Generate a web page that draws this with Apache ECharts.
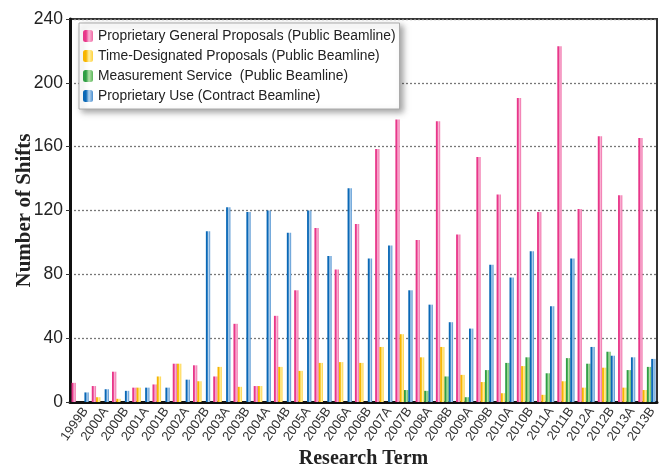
<!DOCTYPE html>
<html>
<head>
<meta charset="utf-8">
<script src="https://cdn.jsdelivr.net/npm/echarts@6/dist/echarts.min.js"></script>
<style>
html,body{margin:0;padding:0;background:#fff;}
#chart{width:667px;height:473px;}
</style>
</head>
<body>
<div id="chart"></div>
<script>
const categories = ['1999B','2000A','2000B','2001A','2001B','2002A','2002B','2003A','2003B','2004A','2004B','2005A','2005B','2006A','2006B','2007A','2007B','2008A','2008B','2009A','2009B','2010A','2010B','2011A','2011B','2012A','2012B','2013A','2013B'];
const proprietaryGeneral = [12,10,19,9,11,24,23,16,49,10,54,70,109,83,111.5,158.5,177,101.5,176,105,153.5,130,190.5,119,223,121,166.5,129.5,165.5];
const timeDesignated = [0,3,2,9,16,24,13,22,9.5,10,22,19.5,24.5,25,24.5,34.5,42.5,28,34.5,17,12.5,5.5,22.5,4.5,13,9,21.5,9,7.5];
const measurementService = [0,0,0,0,0,0,0,0,0,0,0,0,0,0,0,0,7.5,7,16,3,20,24.5,28,18,27.5,24,31.5,20,22];
const contractUse = [6,8,7,9,9,14,107,122,119,120,106,120,91.5,134,90,98,70,61,50,46,86,78,94.5,60,90,34.5,29,28,27];
const yTicks = [0,40,80,120,160,200,240];
const seriesNames = ['Proprietary General Proposals (Public Beamline)','Time-Designated Proposals (Public Beamline)','Measurement Service  (Public Beamline)','Proprietary Use (Contract Beamline)'];

function grad(dark, light, mid){
  return new echarts.graphic.LinearGradient(0,0,1,0,[
    {offset:0,color:dark},{offset:0.3,color:dark},{offset:0.6,color:light},{offset:1,color:mid}
  ]);
}
const colors = [
  grad('#e8378a','#f9b8d6','#f06aa6'),
  grad('#f7b500','#fff0a6','#ffd23f'),
  grad('#2f9e44','#b5e0aa','#5cb85c'),
  grad('#0a68b6','#b9d6ef','#4b8fd0')
];
const dataSets = [proprietaryGeneral,timeDesignated,measurementService,contractUse];

const chart = echarts.init(document.getElementById('chart'));
chart.setOption({
  animation:false,
  backgroundColor:'#fff',
  grid:{left:70,right:10,top:19,bottom:71,show:true,borderColor:'#333',borderWidth:2,
    containLabel:false,outerBoundsMode:'none'},
  legend:{
    orient:'vertical',left:79,top:23,
    padding:[5,4,5,4],
    itemWidth:10,itemHeight:12,itemGap:4,
    backgroundColor:'#fff',borderColor:'#aaa',borderWidth:1,
    shadowBlur:6,shadowColor:'rgba(0,0,0,0.35)',shadowOffsetX:3,shadowOffsetY:3,
    textStyle:{fontFamily:'Liberation Sans',fontSize:13.8,color:'#222',lineHeight:16},
    data:seriesNames
  },
  xAxis:{
    type:'category',data:categories,
    name:'Research Term',nameLocation:'middle',nameGap:47,nameMoveOverlap:false,
    nameTextStyle:{fontFamily:'Liberation Serif',fontWeight:'bold',fontSize:20,color:'#222'},
    axisLine:{lineStyle:{color:'#111',width:3}},
    axisTick:{length:5,lineStyle:{color:'#111',width:2}},
    axisLabel:{rotate:55,verticalAlign:'top',fontFamily:'Liberation Sans',fontSize:13,color:'#333',margin:3,interval:0}
  },
  yAxis:{
    type:'value',min:0,max:240,interval:40,
    name:'Number of Shifts',nameLocation:'middle',nameGap:35,nameMoveOverlap:false,
    nameTextStyle:{fontFamily:'Liberation Serif',fontWeight:'bold',fontSize:21,color:'#222'},
    axisLine:{show:true,lineStyle:{color:'#111',width:3}},
    axisTick:{show:true,length:4,lineStyle:{color:'#333',width:1}},
    axisLabel:{fontFamily:'Liberation Sans',fontSize:17.5,color:'#222',margin:7,
      formatter:function(v){return yTicks.indexOf(v)>=0?String(v):'';}},
    splitLine:{show:true,lineStyle:{color:'#777',width:1.3,type:[2,2]}}
  },
  series:seriesNames.map(function(n,i){
    return {name:n,type:'bar',data:dataSets[i],barWidth:4.3,barGap:'0%',
      itemStyle:{color:colors[i]}};
  })
});
</script>
</body>
</html>
